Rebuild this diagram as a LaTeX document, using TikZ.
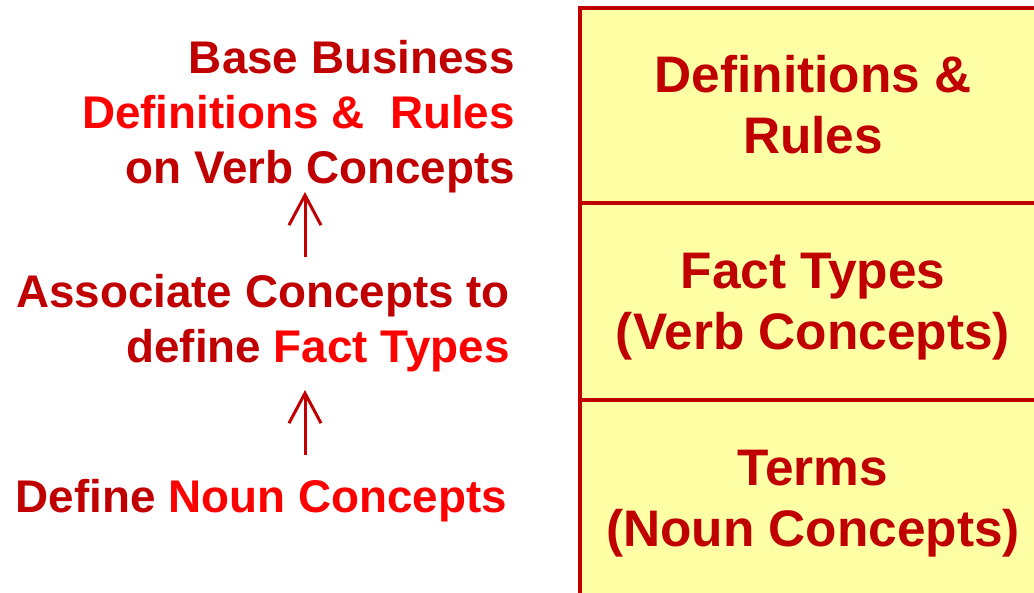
\documentclass[tikz,border=0pt]{standalone}
\usepackage{fontspec}
\setmainfont{Liberation Sans}
\usetikzlibrary{arrows.meta}
\definecolor{dred}{HTML}{C00000}
\definecolor{bred}{HTML}{FF0000}
\definecolor{pyel}{HTML}{FFFFA6}
\tikzset{
  lefttext/.style={inner sep=0pt, align=right, text=dred, font=\bfseries\fontsize{45.8}{55}\selectfont},
  layer/.style={draw=dred, line width=3.5pt, fill=pyel, minimum width=466pt, inner sep=0pt, outer sep=0pt},
  layertext/.style={inner sep=0pt, text=dred, align=center, font=\bfseries\fontsize{51.4}{61.5}\selectfont},
  uparrow/.style={draw=dred, line width=3pt, -{Straight Barb[length=30pt,width=32pt,line width=3pt]}}
}
\begin{document}
\begin{tikzpicture}[x=1pt,y=-1pt]
\useasboundingbox (0,0) rectangle (1034,593);
% right layered box
\node[layer, minimum height=195pt, anchor=north west] (defs) at (580,8) {};
\node[layer, minimum height=197pt, anchor=north west] (facts) at (defs.south west) {};
\node[layer, minimum height=197pt, anchor=north west] (terms) at (facts.south west) {};
\node[layertext] (defst) at ([yshift=1pt]defs.center) {Definitions \&\\Rules};
\node[layertext] (factst) at ([yshift=-5pt]facts.center) {Fact Types\\(Verb Concepts)};
\node[layertext] (termst) at ([yshift=-5pt]terms.center) {Terms\\(Noun Concepts)};
% left texts
\node[lefttext, anchor=east] (base) at (515,117) {Base Business\\\textcolor{bred}{Definitions \&\ \ Rules}\\on Verb Concepts};
\node[lefttext, anchor=east] (assoc) at (510,323.5) {Associate Concepts to\\define \textcolor{bred}{Fact Types}};
\node[lefttext, anchor=east] (noun) at (507,501) {Define \textcolor{bred}{Noun Concepts}};
% arrows
\coordinate (a1s) at (305,257);
\coordinate (a1e) at (305,192);
\coordinate (a2s) at (305,455);
\coordinate (a2e) at (305,390);
\draw[uparrow] (a1s) -- (a1e);
\draw[uparrow] (a2s) -- (a2e);
\end{tikzpicture}
\end{document}
